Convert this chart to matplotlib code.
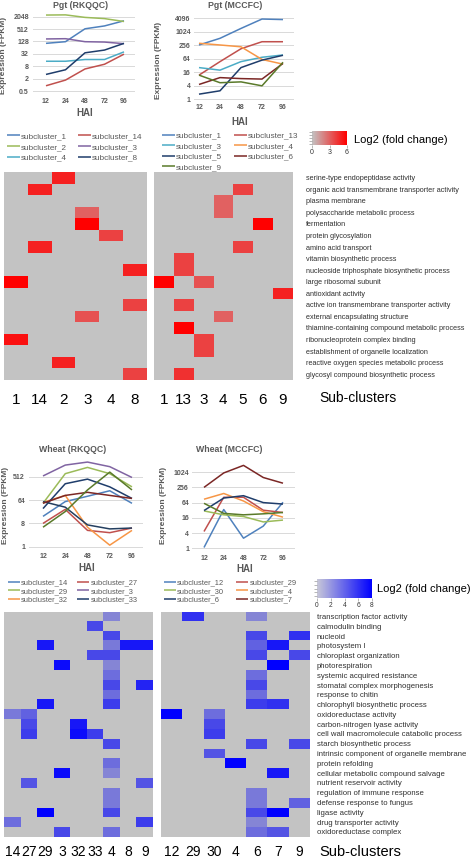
import numpy as np
import matplotlib
matplotlib.use('Agg')
import matplotlib.pyplot as plt
from matplotlib.colors import LinearSegmentedColormap
from matplotlib.ticker import FixedLocator, FixedFormatter, NullLocator

plt.rcParams['font.family'] = ['Liberation Sans', 'DejaVu Sans']

# ---------------- data ----------------
hai = ['12', '24', '48', '72', '96']

# Pgt (RKQQC)
pgt_rk_names = ['subcluster_1', 'subcluster_14', 'subcluster_2', 'subcluster_3', 'subcluster_4', 'subcluster_8']
pgt_rk_1 = [104, 125, 530, 730, 1300]
pgt_rk_14 = [0.9, 1.7, 5.9, 10, 31]
pgt_rk_2 = [2470, 2520, 1900, 1660, 1200]
pgt_rk_3 = [170, 175, 125, 120, 100]
pgt_rk_4 = [14, 14, 17, 17, 40]
pgt_rk_8 = [3.2, 5.4, 36, 49, 104]
pgt_rk_yticks = [0.5, 2, 8, 32, 128, 512, 2048]

# Pgt (MCCFC)
pgt_mc_names = ['subcluster_1', 'subcluster_13', 'subcluster_3', 'subcluster_4', 'subcluster_5', 'subcluster_6', 'subcluster_9']
pgt_mc_1 = [265, 525, 1450, 3800, 3600]
pgt_mc_13 = [12, 48, 180, 370, 370]
pgt_mc_3 = [26, 20, 48, 75, 95]
pgt_mc_4 = [315, 265, 220, 60, 37]
pgt_mc_5 = [1.7, 2.4, 26, 56, 92]
pgt_mc_6 = [4.6, 9.3, 8.4, 8, 40]
pgt_mc_9 = [12, 5.5, 6, 4, 45]
pgt_mc_yticks = [1, 4, 16, 64, 256, 1024, 4096]

# Wheat (RKQQC)
wh_rk_names = ['subcluster_14', 'subcluster_27', 'subcluster_29', 'subcluster_3', 'subcluster_32', 'subcluster_33',
               'subcluster_4', 'subcluster_8', 'subcluster_9']
wh_rk_14 = [15, 56, 90, 147, 48]
wh_rk_27 = [8, 28, 4.3, 3.5, 5.3]
wh_rk_29 = [48, 675, 1180, 675, 208]
wh_rk_3 = [550, 1450, 1900, 1260, 480]
wh_rk_32 = [52, 97, 5.7, 1.15, 4.3]
wh_rk_33 = [30, 275, 415, 208, 74]
wh_rk_4 = [56, 34, 7, 4.9, 5.3]
wh_rk_8 = [48, 97, 128, 97, 74]
wh_rk_9 = [5.7, 23, 158, 776, 158]
wh_rk_yticks = [1, 8, 64, 512]

# Wheat (MCCFC)
wh_mc_names = ['subcluster_12', 'subcluster_29', 'subcluster_30', 'subcluster_4', 'subcluster_6', 'subcluster_7', 'subcluster_9']
wh_mc_12 = [1.07, 34, 2.5, 7.5, 66]
wh_mc_29 = [4.6, 104, 104, 32, 26]
wh_mc_30 = [30, 21, 18, 11, 13]
wh_mc_4 = [87, 147, 74, 28, 17]
wh_mc_6 = [31, 97, 120, 64, 56]
wh_mc_7 = [256, 955, 1900, 630, 375]
wh_mc_9 = [60, 24, 21, 23, 26]
wh_mc_yticks = [1, 4, 16, 64, 256, 1024]

# GO terms and heatmaps
pgt_terms = ['serine-type endopeptidase activity', 'organic acid transmembrane transporter activity',
             'plasma membrane', 'polysaccharide metabolic process', 'fermentation', 'protein glycosylation',
             'amino acid transport', 'vitamin biosynthetic process',
             'nucleoside triphosphate biosynthetic process', 'large ribosomal subunit', 'antioxidant activity',
             'active ion transmembrane transporter activity', 'external encapsulating structure',
             'thiamine-containing compound metabolic process', 'ribonucleoprotein complex binding',
             'establishment of organelle localization', 'reactive oxygen species metabolic process',
             'glycosyl compound biosynthetic process']
pgt_rk_cols = ['1', '14', '2', '3', '4', '8']
pgt_rk_fc = [
    [0, 0, 5, 0, 0, 0],
    [0, 5, 0, 0, 0, 0],
    [0, 0, 0, 0, 0, 0],
    [0, 0, 0, 3, 0, 0],
    [0, 0, 0, 6, 0, 0],
    [0, 0, 0, 0, 4, 0],
    [0, 5, 0, 0, 0, 0],
    [0, 0, 0, 0, 0, 0],
    [0, 0, 0, 0, 0, 5],
    [6, 0, 0, 0, 0, 0],
    [0, 0, 0, 0, 0, 0],
    [0, 0, 0, 0, 0, 4],
    [0, 0, 0, 3.5, 0, 0],
    [0, 0, 0, 0, 0, 0],
    [5.5, 0, 0, 0, 0, 0],
    [0, 0, 0, 0, 0, 0],
    [0, 0, 5, 0, 0, 0],
    [0, 0, 0, 0, 0, 4],
]
pgt_mc_cols = ['1', '13', '3', '4', '5', '6', '9']
pgt_mc_fc = [
    [0, 0, 0, 0, 0, 0, 0],
    [0, 0, 0, 0, 4, 0, 0],
    [0, 0, 0, 3, 0, 0, 0],
    [0, 0, 0, 3, 0, 0, 0],
    [0, 0, 0, 0, 0, 6, 0],
    [0, 0, 0, 0, 0, 0, 0],
    [0, 0, 0, 0, 4, 0, 0],
    [0, 4, 0, 0, 0, 0, 0],
    [0, 4, 0, 0, 0, 0, 0],
    [6, 0, 3.5, 0, 0, 0, 0],
    [0, 0, 0, 0, 0, 0, 5],
    [0, 4, 0, 0, 0, 0, 0],
    [0, 0, 0, 3, 0, 0, 0],
    [0, 6, 0, 0, 0, 0, 0],
    [0, 0, 4, 0, 0, 0, 0],
    [0, 0, 4, 0, 0, 0, 0],
    [0, 0, 0, 0, 0, 0, 0],
    [0, 4.5, 0, 0, 0, 0, 0],
]

wheat_terms = ['transcription factor activity', 'calmodulin binding', 'nucleoid', 'photosystem I',
               'chloroplast organization', 'photorespiration', 'systemic acquired resistance',
               'stomatal complex morphogenesis', 'response to chitin', 'chlorophyll biosynthetic process',
               'oxidoreductase activity', 'carbon-nitrogen lyase activity',
               'cell wall macromolecule catabolic process', 'starch biosynthetic process',
               'intrinsic component of organelle membrane', 'protein refolding',
               'cellular metabolic compound salvage', 'nutrient reservoir activity',
               'regulation of immune response', 'defense response to fungus', 'ligase activity',
               'drug transporter activity', 'oxidoreductase complex']
wh_rk_cols = ['14', '27', '29', '3', '32', '33', '4', '8', '9']
wh_rk_fc = [
    [0, 0, 0, 0, 0, 0, 2.5, 0, 0],
    [0, 0, 0, 0, 0, 5, 0, 0, 0],
    [0, 0, 0, 0, 0, 0, 5, 0, 0],
    [0, 0, 7, 0, 0, 0, 3, 7, 7],
    [0, 0, 0, 0, 0, 5, 5, 0, 0],
    [0, 0, 0, 7.5, 0, 0, 2.5, 0, 0],
    [0, 0, 0, 0, 0, 0, 3.5, 0, 0],
    [0, 0, 0, 0, 0, 0, 5, 0, 6.5],
    [0, 0, 0, 0, 0, 0, 3.5, 0, 0],
    [0, 0, 7, 0, 0, 0, 5.5, 0, 0],
    [3, 4, 0, 0, 0, 0, 0, 0, 0],
    [0, 5, 0, 0, 7, 0, 0, 0, 0],
    [0, 5.5, 0, 0, 7.5, 5.5, 0, 0, 0],
    [0, 0, 0, 0, 0, 0, 5, 0, 0],
    [0, 0, 0, 0, 0, 0, 0, 0, 0],
    [0, 0, 0, 0, 0, 0, 3.5, 0, 0],
    [0, 0, 0, 7.5, 0, 0, 2.5, 0, 0],
    [0, 4.5, 0, 0, 0, 0, 0, 0, 4.5],
    [0, 0, 0, 0, 0, 0, 3, 0, 0],
    [0, 0, 0, 0, 0, 0, 3, 0, 0],
    [0, 0, 8, 0, 0, 0, 5, 0, 0],
    [3.5, 0, 0, 0, 0, 0, 0, 0, 5.5],
    [0, 0, 0, 5, 0, 0, 3.5, 0, 0],
]
wh_mc_cols = ['12', '29', '30', '4', '6', '7', '9']
wh_mc_fc = [
    [0, 6, 0, 0, 2.5, 0, 0],
    [0, 0, 0, 0, 0, 0, 0],
    [0, 0, 0, 0, 5, 0, 6],
    [0, 0, 0, 0, 4, 7, 0],
    [0, 0, 0, 0, 5, 0, 5],
    [0, 0, 0, 0, 0, 8, 0],
    [0, 0, 0, 0, 3.5, 0, 0],
    [0, 0, 0, 0, 5, 0, 0],
    [0, 0, 0, 0, 3.5, 0, 0],
    [0, 0, 0, 0, 5.5, 6, 0],
    [8, 0, 3.5, 0, 0, 0, 0],
    [0, 0, 5, 0, 0, 0, 0],
    [0, 0, 5.5, 0, 0, 0, 0],
    [0, 0, 0, 0, 5, 0, 5],
    [0, 0, 4.5, 0, 0, 0, 0],
    [0, 0, 0, 8, 0, 0, 0],
    [0, 0, 0, 0, 0, 7, 0],
    [0, 0, 0, 0, 0, 0, 0],
    [0, 0, 0, 0, 3, 0, 0],
    [0, 0, 0, 0, 3, 0, 4],
    [0, 0, 0, 0, 5, 8, 0],
    [0, 0, 0, 0, 2.5, 0, 0],
    [0, 0, 0, 0, 3.5, 4.5, 0],
]

red_ticks = [0, 3, 6]
blue_ticks = [0, 2, 4, 6, 8]

# ---------------- styling ----------------
BLUE, RED, GREEN, PURPLE = '#4F81BD', '#C0504D', '#9BBB59', '#8064A2'
AQUA, ORANGE, NAVY, DRED, OLIVE = '#4BACC6', '#F79646', '#1F3D6B', '#7B2725', '#5A7A2A'
GRAYTXT = '#595959'

W, H = 473, 860
fig = plt.figure(figsize=(W / 100, H / 100), dpi=100)


def px_axes(x0, y0, x1, y1):
    return fig.add_axes([x0 / W, 1 - y1 / H, (x1 - x0) / W, (y1 - y0) / H])


def fx(x):
    return x / W


def fy(y):
    return 1 - y / H


def line_chart(box, cat0, dcat, ylo, yhi, yticks, series, colors, names, xpad, ypad):
    x0, y0, x1, y1 = box
    ax = px_axes(x0, y0, x1, y1)
    xs = np.arange(len(hai))
    lines = []
    for vals, c, n in zip(series, colors, names):
        ln, = ax.plot(xs, vals, color=c, lw=1.1, label=n, solid_capstyle='butt')
        lines.append(ln)
    ax.set_yscale('log', base=2)
    ax.set_ylim(ylo, yhi)
    ax.set_xlim((x0 - cat0) / dcat, (x1 - cat0) / dcat)
    ax.yaxis.set_major_locator(FixedLocator(yticks))
    ax.yaxis.set_major_formatter(FixedFormatter([('%g' % t) for t in yticks]))
    ax.yaxis.set_minor_locator(NullLocator())
    ax.set_xticks(xs, hai)
    for s in ax.spines.values():
        s.set_visible(False)
    ax.yaxis.grid(True, color='#d9d9d9', lw=0.7)
    ax.set_axisbelow(True)
    ax.tick_params(length=0, labelsize=5, labelcolor=GRAYTXT)
    ax.tick_params(axis='x', pad=xpad)
    ax.tick_params(axis='y', pad=ypad)
    for t in ax.get_xticklabels() + ax.get_yticklabels():
        t.set_fontweight('bold')
    ax.patch.set_alpha(0)
    return ax, lines


def legend(handles, anchor, fs, ls, cs, hl=1.6):
    fig.legend(handles=handles, labels=[h.get_label() for h in handles], ncol=2, loc='upper left',
               bbox_to_anchor=(fx(anchor[0]), fy(anchor[1])), frameon=False, fontsize=fs,
               handlelength=hl, handletextpad=0.15, columnspacing=cs, labelspacing=ls,
               borderpad=0, borderaxespad=0, labelcolor=GRAYTXT)


def heatmap(box, data, cmap, vmax, cols, terms=None, col_pad=9, col_fs=11, term_pad=10, term_fs=4.8):
    ax = px_axes(*box)
    ax.imshow(np.array(data, float), cmap=cmap, vmin=0, vmax=vmax, aspect='auto', interpolation='nearest')
    ax.set_xticks(range(len(cols)), cols)
    ax.tick_params(axis='x', length=0, labelsize=col_fs, pad=col_pad)
    if terms is None:
        ax.set_yticks([])
    else:
        ax.yaxis.tick_right()
        ax.set_yticks(range(len(terms)), terms)
        ax.tick_params(axis='y', length=0, labelsize=term_fs, pad=term_pad, labelcolor='#303030')
    for s in ax.spines.values():
        s.set_visible(False)
    return ax


def colorbar(box, cmap, vmax, ticks, fs=5):
    ax = px_axes(*box)
    grad = np.linspace(0, vmax, 256)[None, :]
    ax.imshow(grad, cmap=cmap, vmin=0, vmax=vmax, aspect='auto', extent=[0, vmax, 0, 1])
    ax.set_xticks(ticks, [str(t) for t in ticks])
    ax.set_yticks(np.linspace(0.1, 0.9, 5))
    ax.set_yticklabels([])
    ax.tick_params(axis='x', length=2, width=0.5, color='#9a9a9a', labelsize=fs, pad=1, labelcolor='#333333')
    ax.tick_params(axis='y', length=2, width=0.5, color='#9a9a9a')
    for s in ax.spines.values():
        s.set_visible(False)


def txt(x, y, s, **kw):
    fig.text(fx(x), fy(y), s, **kw)


# ---------------- Pgt RKQQC ----------------
ax, ln = line_chart((33, 14, 135, 92), 46, 19.5, 2 ** -1.16, 2 ** 11.44, pgt_rk_yticks,
                    [pgt_rk_1, pgt_rk_14, pgt_rk_2, pgt_rk_3, pgt_rk_4, pgt_rk_8],
                    [BLUE, RED, GREEN, PURPLE, AQUA, NAVY], pgt_rk_names, 4, 2.9)
txt(81, 5, 'Pgt (RKQQC)', ha='center', va='center', fontsize=6.3, fontweight='bold', color=GRAYTXT)
txt(4, 55, 'Expression (FPKM)', ha='center', va='center', rotation=90, fontsize=6, fontweight='bold', color=GRAYTXT)
txt(85, 113, 'HAI', ha='center', va='center', fontsize=7, fontweight='bold', color=GRAYTXT)
legend([ln[0], ln[2], ln[4], ln[1], ln[3], ln[5]], (7, 132.5), 5.85, 0.36, 1.3)

# ---------------- Pgt MCCFC ----------------
ax, ln = line_chart((194, 15, 294, 100), 199, 21, 2 ** -0.1, 2 ** 12.49, pgt_mc_yticks,
                    [pgt_mc_1, pgt_mc_13, pgt_mc_3, pgt_mc_4, pgt_mc_5, pgt_mc_6, pgt_mc_9],
                    [BLUE, RED, AQUA, ORANGE, NAVY, DRED, OLIVE], pgt_mc_names, 3.2, 2.4)
txt(235, 6, 'Pgt (MCCFC)', ha='center', va='center', fontsize=6.3, fontweight='bold', color=GRAYTXT)
txt(159, 60, 'Expression (FPKM)', ha='center', va='center', rotation=90, fontsize=6, fontweight='bold', color=GRAYTXT)
txt(240, 122, 'HAI', ha='center', va='center', fontsize=7, fontweight='bold', color=GRAYTXT)
legend([ln[0], ln[2], ln[4], ln[6], ln[1], ln[3], ln[5]], (162, 132), 5.85, 0.33, 1.4)

# red colour scale
red_cmap = LinearSegmentedColormap.from_list('gr', ['#c3c3c3', '#ff0000'])
colorbar((312, 131, 347, 145), red_cmap, 6, red_ticks)
txt(354, 140, 'Log2 (fold change)', ha='left', va='center', fontsize=8, color='black')

# Pgt heatmaps
heatmap((4, 172, 147, 380), pgt_rk_fc, red_cmap, 6, pgt_rk_cols, col_pad=9, col_fs=11)
heatmap((154, 172, 292, 380), pgt_mc_fc, red_cmap, 6, pgt_mc_cols, pgt_terms, col_pad=9, col_fs=11,
        term_pad=10, term_fs=5.25)
txt(319, 398, 'Sub-clusters', ha='left', va='center', fontsize=10, color='black')

# ---------------- Wheat RKQQC ----------------
ax, ln = line_chart((29, 455, 143, 547.5), 43, 22.25, 2 ** -0.1, 2 ** 11.8, wh_rk_yticks,
                    [wh_rk_14, wh_rk_27, wh_rk_29, wh_rk_3, wh_rk_32, wh_rk_33, wh_rk_4, wh_rk_8, wh_rk_9],
                    [BLUE, RED, GREEN, PURPLE, ORANGE, NAVY, '#243F60', DRED, OLIVE], wh_rk_names, 4, 2.9)
txt(73, 449, 'Wheat (RKQQC)', ha='center', va='center', fontsize=6.3, fontweight='bold', color=GRAYTXT)
txt(6, 505, 'Expression (FPKM)', ha='center', va='center', rotation=90, fontsize=6, fontweight='bold', color=GRAYTXT)
txt(87, 568, 'HAI', ha='center', va='center', fontsize=7, fontweight='bold', color=GRAYTXT)
legend([ln[0], ln[2], ln[4], ln[1], ln[3], ln[5]], (8, 579), 5.4, 0.17, 1.2)

# ---------------- Wheat MCCFC ----------------
ax, ln = line_chart((192, 460, 295, 549), 204, 19.75, 2 ** -0.1, 2 ** 11.6, wh_mc_yticks,
                    [wh_mc_12, wh_mc_29, wh_mc_30, wh_mc_4, wh_mc_6, wh_mc_7, wh_mc_9],
                    [BLUE, RED, GREEN, ORANGE, NAVY, DRED, OLIVE], wh_mc_names, 4, 2.2)
txt(229, 449, 'Wheat (MCCFC)', ha='center', va='center', fontsize=6.3, fontweight='bold', color=GRAYTXT)
txt(163, 505, 'Expression (FPKM)', ha='center', va='center', rotation=90, fontsize=6, fontweight='bold', color=GRAYTXT)
txt(245, 569, 'HAI', ha='center', va='center', fontsize=7, fontweight='bold', color=GRAYTXT)
legend([ln[0], ln[2], ln[4], ln[1], ln[3], ln[5]], (164, 579), 5.4, 0.17, 1.6)

# blue colour scale
blue_cmap = LinearSegmentedColormap.from_list('gb', ['#c8c8d8', '#0000ff'])
colorbar((317, 579, 372, 598), blue_cmap, 8, blue_ticks, fs=4.8)
txt(377, 589, 'Log2 (fold change)', ha='left', va='center', fontsize=8, color='black')

# Wheat heatmaps
blue_hm = LinearSegmentedColormap.from_list('gb2', ['#c3c3c3', '#0000ff'])
heatmap((4, 611.7, 153, 836.7), wh_rk_fc, blue_hm, 8, wh_rk_cols, col_pad=6.3, col_fs=10)
heatmap((161, 611.7, 310, 836.7), wh_mc_fc, blue_hm, 8, wh_mc_cols, wheat_terms, col_pad=6.3, col_fs=10,
        term_pad=4.8, term_fs=5.6)
txt(319, 852, 'Sub-clusters', ha='left', va='center', fontsize=10.5, color='black')

fig.savefig('out.png', dpi=100)
